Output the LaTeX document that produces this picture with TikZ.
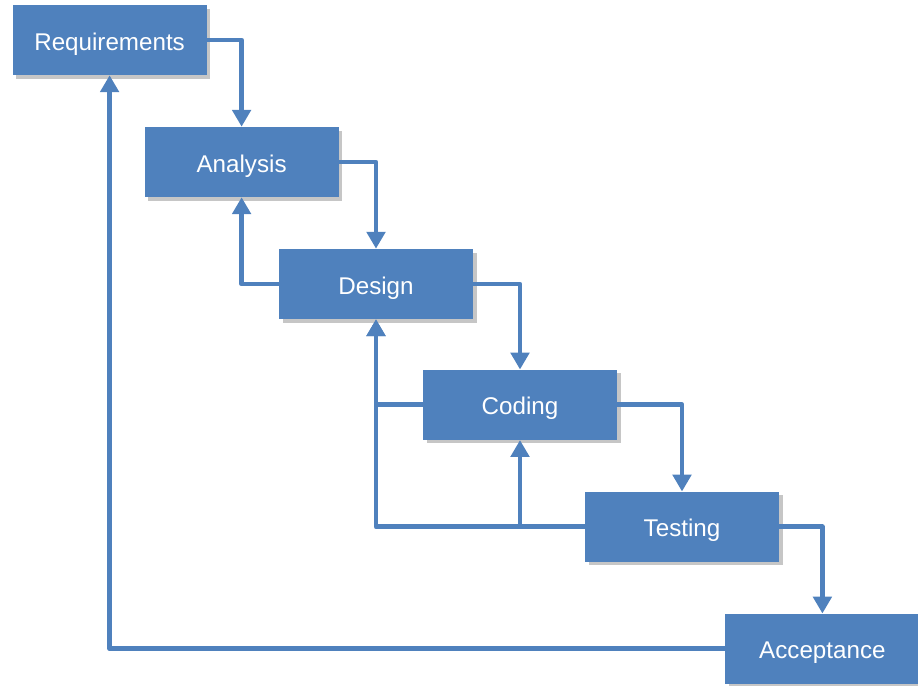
\documentclass[tikz,border=0pt]{standalone}
\usepackage{fontspec}
\setmainfont{Liberation Sans}
\usetikzlibrary{arrows.meta,shadows}
\definecolor{stageblue}{HTML}{4F81BD}

\begin{document}
\begin{tikzpicture}[
    stage/.style={fill=stageblue, text=white, minimum width=4.85cm, minimum height=1.75cm,
        inner sep=0pt, text height=14.5pt, text depth=0pt,
        font=\fontsize{17.2}{20}\selectfont,
        drop shadow={shadow xshift=2.5pt, shadow yshift=-2.5pt, opacity=0.45}},
    flow/.style={draw=stageblue, line width=3.3pt, line join=round,
        -{Triangle[width=13pt,length=12pt]}}
]
    % fix the page size
    \useasboundingbox (0,0) rectangle (22.95,17.15);

    % The stages
    \node[stage] (req) at (2.74,16.15) {Requirements};
    \node[stage] (ana) at (6.04,13.10) {Analysis};
    \node[stage] (des) at (9.40,10.05) {Design};
    \node[stage] (cod) at (13.00,7.03) {Coding};
    \node[stage] (tes) at (17.05,3.98) {Testing};
    \node[stage] (acc) at (20.56,0.93) {Acceptance};

    % Going down the steps
    \draw[flow] (req.east) -| (ana.north);
    \draw[flow] (ana.east) -| (des.north);
    \draw[flow] (des.east) -| (cod.north);
    \draw[flow] (cod.east) -| (tes.north);
    \draw[flow] (tes.east) -| (acc.north);

    % Going back up
    \draw[flow] (des.west) -| (ana.south);
    \draw[flow] (cod.west) -| (des.south);
    \draw[flow] (tes.west) -| (des.south);
    \draw[flow] (tes.west) -| (cod.south);
    \draw[flow] (acc.west) -| (req.south);
\end{tikzpicture}
\end{document}
